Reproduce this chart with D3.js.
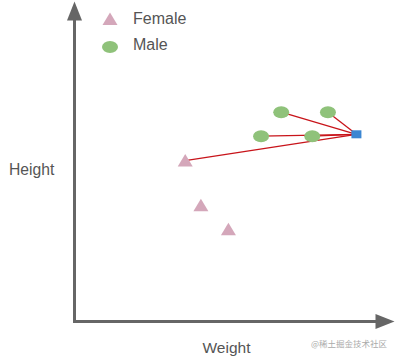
<!DOCTYPE html>
<html><head><meta charset="utf-8">
<script src="https://cdn.jsdelivr.net/npm/d3@7"></script>
<style>body{margin:0;background:#fff}svg{display:block}</style>
</head><body>
<script>
const maleWeight = [64.6, 79.2, 58.3, 74.3];
const maleHeight = [65.4, 65.4, 57.9, 57.9];
const femaleWeight = [34.6, 39.5, 48.1];
const femaleHeight = [50.3, 36.3, 28.8];
const queryPoint = [88.1, 58.5];
const neighbors = [["male",0],["male",1],["male",2],["male",3],["female",0]];
const legendLabels = ["Female", "Male"];

const W = 396, H = 358;
const svg = d3.select("body").append("svg").attr("width", W).attr("height", H);
const x = d3.scaleLinear().domain([0, 100]).range([74.5, 394.5]);
const y = d3.scaleLinear().domain([0, 100]).range([321.5, 1.5]);
const font = "'Liberation Sans', Arial, sans-serif";
const axisColor = "#666";

// axes
svg.append("line").attr("x1", x(0)).attr("x2", x(0)).attr("y1", y(0)+1.5).attr("y2", y(95))
  .attr("stroke", axisColor).attr("stroke-width", 3);
svg.append("line").attr("x1", x(0)-1.5).attr("x2", x(95)).attr("y1", y(0)).attr("y2", y(0))
  .attr("stroke", axisColor).attr("stroke-width", 3);
svg.append("path").attr("d", `M${x(0)},${y(100)} L${x(0)-7.5},${y(100)+19} L${x(0)+7.5},${y(100)+19} Z`).attr("fill", axisColor);
svg.append("path").attr("d", `M${x(100)},${y(0)} L${x(100)-19},${y(0)-7.5} L${x(100)-19},${y(0)+7.5} Z`).attr("fill", axisColor);

svg.append("text").attr("x", 9).attr("y", 174.5).text("Height")
  .attr("font-family", font).attr("font-size", 15.7).attr("fill", "#555");
svg.append("text").attr("x", 202.5).attr("y", 353).text("Weight")
  .attr("font-family", font).attr("font-size", 15.5).attr("fill", "#555");
svg.append("text").attr("x", 311).attr("y", 347).text("@稀土掘金技术社区")
  .attr("font-family", "'Noto Sans CJK SC', sans-serif").attr("font-size", 8.5).attr("fill", "#aaa");

// lines
const pts = {
  male: maleWeight.map((w,i)=>[w, maleHeight[i]]),
  female: femaleWeight.map((w,i)=>[w, femaleHeight[i]])
};
svg.selectAll("line.nb").data(neighbors).join("line").attr("class","nb")
  .attr("x1", x(queryPoint[0])).attr("y1", y(queryPoint[1]))
  .attr("x2", d=>x(pts[d[0]][d[1]][0])).attr("y2", d=>y(pts[d[0]][d[1]][1]))
  .attr("stroke", "#c8141a").attr("stroke-width", 1.3);

const tri = (cx, cy) => `M${cx},${cy-6.5} L${cx+7.5},${cy+6} L${cx-7.5},${cy+6} Z`;
const pink = "#d4a7ba", green = "#8fc27a", blue = "#3b86d2";

svg.selectAll("ellipse.m").data(pts.male).join("ellipse").attr("class","m")
  .attr("cx", d=>x(d[0])).attr("cy", d=>y(d[1])).attr("rx", 8).attr("ry", 6).attr("fill", green);
svg.selectAll("path.f").data(pts.female).join("path").attr("class","f")
  .attr("d", d=>tri(x(d[0]), y(d[1]))).attr("fill", pink);
svg.append("rect").attr("x", x(queryPoint[0])-5).attr("y", y(queryPoint[1])-4)
  .attr("width", 10).attr("height", 8).attr("fill", blue);

// legend
svg.append("path").attr("d", tri(110, 19)).attr("fill", pink);
svg.append("ellipse").attr("cx", 110).attr("cy", 47).attr("rx", 8).attr("ry", 6).attr("fill", green);
svg.selectAll("text.lg").data(legendLabels).join("text").attr("class","lg")
  .attr("x", 133).attr("y", (d,i)=>24 + i*26).text(d=>d)
  .attr("font-family", font).attr("font-size", 16).attr("fill", "#555");
</script>
</body></html>
